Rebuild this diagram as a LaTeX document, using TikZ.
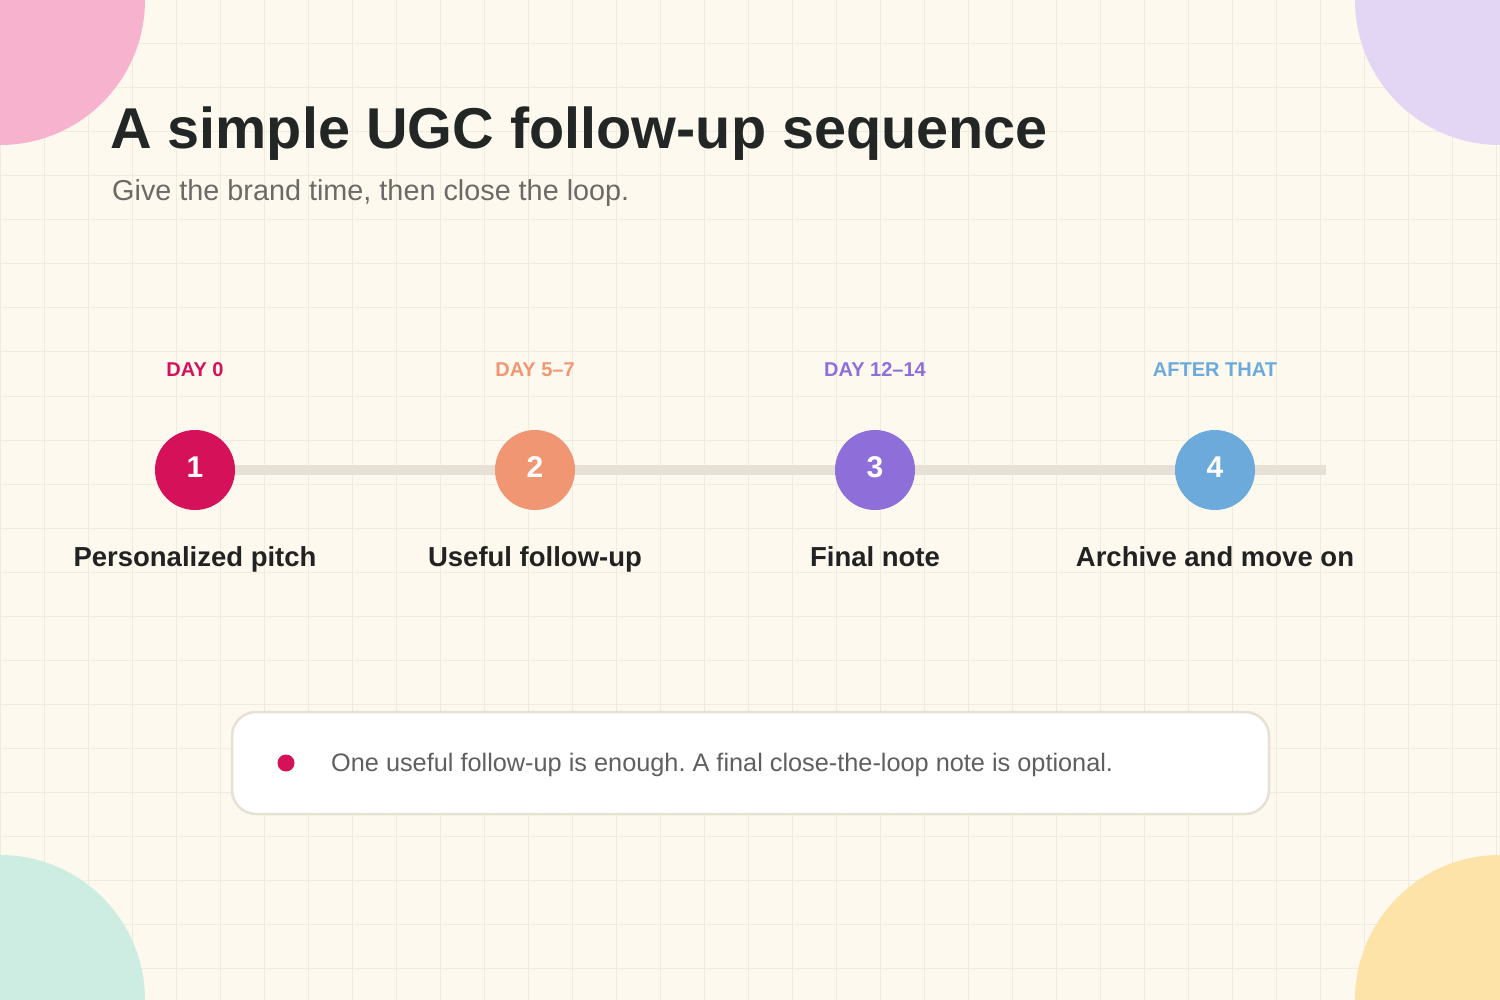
\documentclass[tikz,border=0pt]{standalone}
\usepackage{fontspec}
\setmainfont{Liberation Sans}
\frenchspacing
\definecolor{bg}{HTML}{FDF9EF}
\definecolor{gridc}{HTML}{F0EBDF}
\definecolor{trackc}{HTML}{E6E0D5}
\definecolor{pinkc}{HTML}{F7B2CD}
\definecolor{lavc}{HTML}{E2D6F4}
\definecolor{mintc}{HTML}{CDEDE2}
\definecolor{yelc}{HTML}{FDE3A7}
\definecolor{cA}{HTML}{D5115A}
\definecolor{cB}{HTML}{F09673}
\definecolor{cC}{HTML}{8E6FD9}
\definecolor{cD}{HTML}{6BAADB}
\definecolor{titlec}{HTML}{222625}
\definecolor{subc}{HTML}{6B6A66}
\definecolor{stepc}{HTML}{222222}
\definecolor{notec}{HTML}{5F5F5F}
\tikzset{
  gridline/.style={draw=gridc, line width=1pt},
  dotnode/.style={circle, minimum size=80pt, inner sep=0pt},
  numlabel/.style={text=white, font=\fontsize{30}{30}\selectfont\bfseries},
  daylabel/.style={anchor=base, font=\fontsize{20}{20}\selectfont\bfseries},
  steptitle/.style={anchor=base, text=stepc, font=\fontsize{27.5}{27.5}\selectfont\bfseries},
}
\begin{document}
\begin{tikzpicture}[x=1pt, y=-1pt]
\useasboundingbox (0,0) rectangle (1500,1000);
\clip (0,0) rectangle (1500,1000);
\fill[bg] (0,0) rectangle (1500,1000);
\foreach \i in {0,...,34} { \draw[gridline] (44*\i,0) -- (44*\i,1000); }
\foreach \j in {0,...,23} { \draw[gridline] (0,44*\j) -- (1500,44*\j); }
% corner blobs
\fill[pinkc] (0,0) circle[radius=145];
\fill[lavc] (1500,0) circle[radius=145];
\fill[mintc] (0,1000) circle[radius=145];
\fill[yelc] (1500,1000) circle[radius=145];
% title
\node[anchor=base west, inner sep=0pt, text=titlec, font=\fontsize{57.6}{57.6}\selectfont\bfseries] (title) at (110,149) {A simple UGC follow-up sequence};
\node[anchor=base west, inner sep=0pt, text=subc, font=\fontsize{28.8}{28.8}\selectfont] (subtitle) at (112,201) {Give the brand time, then close the loop.};
% track
\coordinate (tstart) at (195,470);
\coordinate (tend) at (1326,470);
\draw[trackc, line width=10pt] (tstart) -- (tend);
% steps
\node[daylabel, text=cA] (d1) at (195,377) {DAY 0};
\node[daylabel, text=cB] (d2) at (535,377) {DAY 5–7};
\node[daylabel, text=cC] (d3) at (875,377) {DAY 12–14};
\node[daylabel, text=cD] (d4) at (1215,377) {AFTER THAT};
\node[dotnode, fill=cA] (c1) at (195,470) {};
\node[dotnode, fill=cB] (c2) at (535,470) {};
\node[dotnode, fill=cC] (c3) at (875,470) {};
\node[dotnode, fill=cD] (c4) at (1215,470) {};
\node[numlabel] (n1) at ([yshift=3pt]c1.center) {1};
\node[numlabel] (n2) at ([yshift=3pt]c2.center) {2};
\node[numlabel] (n3) at ([yshift=3pt]c3.center) {3};
\node[numlabel] (n4) at ([yshift=3pt]c4.center) {4};
\node[steptitle] (s1) at (195,566) {Personalized pitch};
\node[steptitle] (s2) at (535,566) {Useful follow-up};
\node[steptitle] (s3) at (875,566) {Final note};
\node[steptitle] (s4) at (1215,566) {Archive and move on};
% note box
\node[draw=trackc, line width=2.5pt, fill=white, rounded corners=24pt, minimum width=1037pt, minimum height=102pt, inner sep=0pt] (note) at (750.5,763) {};
\fill[cA] (286,763) circle[radius=8.5];
\node[anchor=base west, inner sep=0pt, text=notec, font=\fontsize{25.3}{25.3}\selectfont] (notetext) at (331,771) {One useful follow-up is enough. A final close-the-loop note is optional.};
\end{tikzpicture}
\end{document}
